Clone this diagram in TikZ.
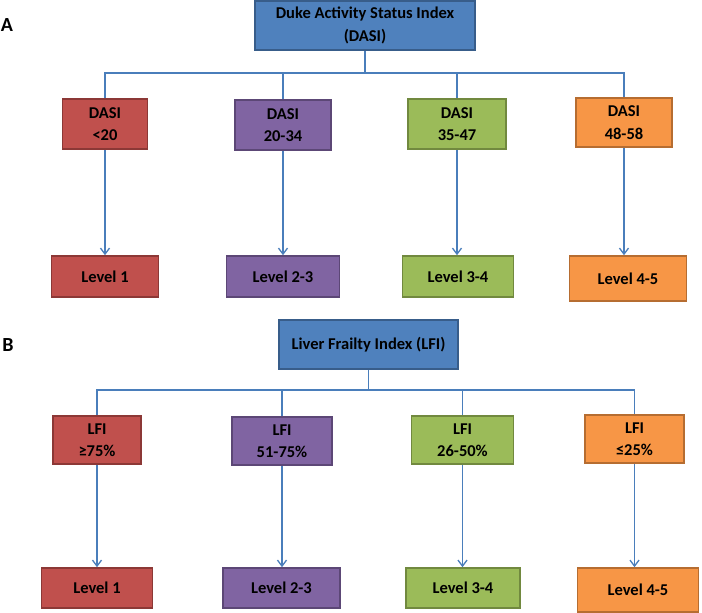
\documentclass[tikz,border=0pt]{standalone}
\usepackage{fontspec}
\setmainfont{Carlito}
\usepackage{tikz}
\usetikzlibrary{arrows.meta}

\definecolor{hdfill}{HTML}{4F81BD}\definecolor{hddraw}{HTML}{385D8A}
\definecolor{rdfill}{HTML}{C0504D}\definecolor{rddraw}{HTML}{8C3836}
\definecolor{pufill}{HTML}{8064A2}\definecolor{pudraw}{HTML}{5C4776}
\definecolor{grfill}{HTML}{9BBB59}\definecolor{grdraw}{HTML}{71893F}
\definecolor{orfill}{HTML}{F79646}\definecolor{ordraw}{HTML}{B66D31}
\definecolor{linkcol}{HTML}{4A7EBB}

\begin{document}
\begin{tikzpicture}[
  x=1pt,y=1pt,
  every node/.style={font=\fontsize{16.5}{22.5}\selectfont\bfseries},
  box/.style={draw,line width=1.6pt,inner sep=0pt,align=center},
  hdbox/.style={box,fill=hdfill,draw=hddraw},
  rdbox/.style={box,fill=rdfill,draw=rddraw},
  pubox/.style={box,fill=pufill,draw=pudraw},
  grbox/.style={box,fill=grfill,draw=grdraw},
  orbox/.style={box,fill=orfill,draw=ordraw},
  link/.style={draw=linkcol,line width=1.3pt},
  arr/.style={link,-{Straight Barb[length=6pt,width=9pt,line width=1.3pt]}}
]
\useasboundingbox (0,0) rectangle (702,-613);

% ---- panel labels ----
\node[font=\fontsize{20}{24}\selectfont\bfseries] (labA) at (7,-25) {A};
\node[font=\fontsize{20}{24}\selectfont\bfseries] (labB) at (8,-345) {B};

% ---- A: DASI ----
\node[hdbox,minimum width=220,minimum height=49] (dasi) at (365,-25.5)
  {Duke Activity Status Index\\(DASI)};
\coordinate (abar) at (365,-73);

\node[rdbox,minimum width=85,minimum height=50] (dlt)  at (105,-124)   {DASI\\<20};
\node[pubox,minimum width=96,minimum height=50] (dlo)  at (283,-125)   {DASI\\20-34};
\node[grbox,minimum width=98,minimum height=50] (dmid) at (457,-124)   {DASI\\35-47};
\node[orbox,minimum width=96,minimum height=49] (dhi)  at (624,-122.5) {DASI\\48-58};

\node[rdbox,minimum width=107,minimum height=41] (dlvA) at (105,-276.5)  {Level 1};
\node[pubox,minimum width=113,minimum height=41] (dlvB) at (283,-276.5)  {Level 2-3};
\node[grbox,minimum width=111,minimum height=41] (dlvC) at (458,-276.5)  {Level 3-4};
\node[orbox,minimum width=117,minimum height=45] (dlvD) at (628,-278.5)  {Level 4-5};

% A tree
\draw[link] (dasi.south) -- (abar);
\draw[link] (dlt.north) |- (abar) -| (dhi.north);
\draw[link] (dlo.north) -- (dlo.north |- abar);
\draw[link] (dmid.north) -- (dmid.north |- abar);
\draw[arr] (dlt.south)  -- (dlt.south |- dlvA.north);
\draw[arr] (dlo.south)  -- (dlo.south |- dlvB.north);
\draw[arr] (dmid.south) -- (dmid.south |- dlvC.north);
\draw[arr] (dhi.south)  -- (dhi.south |- dlvD.north);

% ---- B: LFI ----
\node[hdbox,minimum width=179,minimum height=49] (lfi) at (368.5,-344.5)
  {Liver Frailty Index (LFI)};
\coordinate (bbar) at (368.5,-390);

\node[rdbox,minimum width=88,minimum height=48]  (lge)  at (97,-440)    {LFI\\≥75\%};
\node[pubox,minimum width=100,minimum height=48] (llo)  at (282,-441)   {LFI\\51-75\%};
\node[grbox,minimum width=102,minimum height=48] (lmid) at (462.5,-440) {LFI\\26-50\%};
\node[orbox,minimum width=99,minimum height=48]  (lle)  at (634.5,-439) {LFI\\≤25\%};

\node[rdbox,minimum width=111,minimum height=40] (llvA) at (97,-588)   {Level 1};
\node[pubox,minimum width=117,minimum height=40] (llvB) at (281.5,-588) {Level 2-3};
\node[grbox,minimum width=114,minimum height=40] (llvC) at (463,-588)   {Level 3-4};
\node[orbox,minimum width=121,minimum height=44] (llvD) at (638,-590)   {Level 4-5};

% B tree
\draw[link] (lfi.south) -- (bbar);
\draw[link] (lge.north) |- (bbar) -| (lle.north);
\draw[link] (llo.north) -- (llo.north |- bbar);
\draw[link] (lmid.north) -- (lmid.north |- bbar);
\draw[arr] (lge.south)  -- (lge.south |- llvA.north);
\draw[arr] (llo.south)  -- (llo.south |- llvB.north);
\draw[arr] (lmid.south) -- (lmid.south |- llvC.north);
\draw[arr] (lle.south)  -- (lle.south |- llvD.north);

\end{tikzpicture}
\end{document}
